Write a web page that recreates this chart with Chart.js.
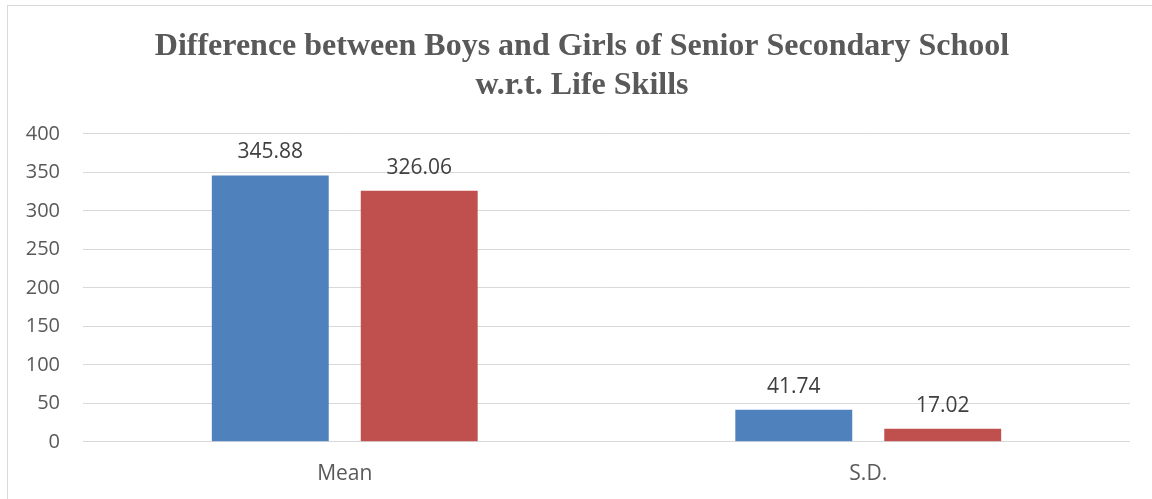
<!DOCTYPE html>
<html>
<head>
<meta charset="utf-8">
<script src="https://cdn.jsdelivr.net/npm/chart.js@4"></script>
<style>
  body { margin: 0; background: #fff; overflow: hidden; }
  #caja {
    position: absolute; left: 7px; top: 5px;
    width: 1148px; height: 500px;
    border: 1px solid #d9d9d9;
  }
</style>
</head>
<body>
<div id="caja"><canvas id="grafica"></canvas></div>
<script>
// Datos de la gráfica
const categorias = ['Mean', 'S.D.'];
const serieBoys = [345.88, 41.74];
const serieGirls = [326.06, 17.02];
const ticksY = [0, 50, 100, 150, 200, 250, 300, 350, 400];

// Etiquetas de valor encima de cada barra
const etiquetasValor = {
  id: 'etiquetasValor',
  afterDatasetsDraw(chart) {
    const ctx = chart.ctx;
    ctx.save();
    ctx.font = '21px "Open Sans", sans-serif';
    ctx.fillStyle = '#404040';
    ctx.textAlign = 'center';
    ctx.textBaseline = 'alphabetic';
    chart.data.datasets.forEach((ds, i) => {
      chart.getDatasetMeta(i).data.forEach((barra, j) => {
        ctx.fillText(ds.data[j].toFixed(2), barra.x, barra.y - 17);
      });
    });
    ctx.restore();
  }
};

// El título se centra sobre todo el ancho del lienzo
const centrarTitulo = {
  id: 'centrarTitulo',
  afterLayout(chart) {
    if (chart.titleBlock) {
      chart.titleBlock.left = 0;
      chart.titleBlock.right = chart.width;
    }
  }
};

new Chart(document.getElementById('grafica'), {
  type: 'bar',
  data: {
    labels: categorias,
    datasets: [
      { label: 'Boys', data: serieBoys, backgroundColor: '#4F81BD' },
      { label: 'Girls', data: serieGirls, backgroundColor: '#C0504D' }
    ]
  },
  options: {
    responsive: true,
    maintainAspectRatio: false,
    animation: false,
    layout: { padding: { top: 10, right: 26, bottom: 7, left: 0 } },
    datasets: {
      bar: { categoryPercentage: 0.569, barPercentage: 0.785 }
    },
    scales: {
      x: {
        grid: { display: false },
        border: { display: false },
        ticks: {
          color: '#595959',
          font: { family: '"Open Sans", sans-serif', size: 21 },
          padding: 12
        }
      },
      y: {
        min: 0,
        max: 400,
        afterBuildTicks: (scale) => { scale.ticks = ticksY.map(v => ({ value: v })); },
        afterFit: (scale) => { scale.width = 75; },
        grid: { color: '#d9d9d9', drawTicks: false },
        border: { display: false },
        ticks: {
          color: '#595959',
          font: { family: '"Open Sans", sans-serif', size: 20 },
          padding: 23
        }
      }
    },
    plugins: {
      legend: { display: false },
      tooltip: { enabled: false },
      title: {
        display: true,
        text: ['Difference between Boys and Girls of Senior Secondary School', 'w.r.t. Life Skills'],
        color: '#595959',
        font: { family: '"Liberation Serif", "Times New Roman", serif', size: 32, weight: 'bold', lineHeight: 1.2 },
        padding: { top: 12, bottom: 29 }
      }
    }
  },
  plugins: [etiquetasValor, centrarTitulo]
});
</script>
</body>
</html>
